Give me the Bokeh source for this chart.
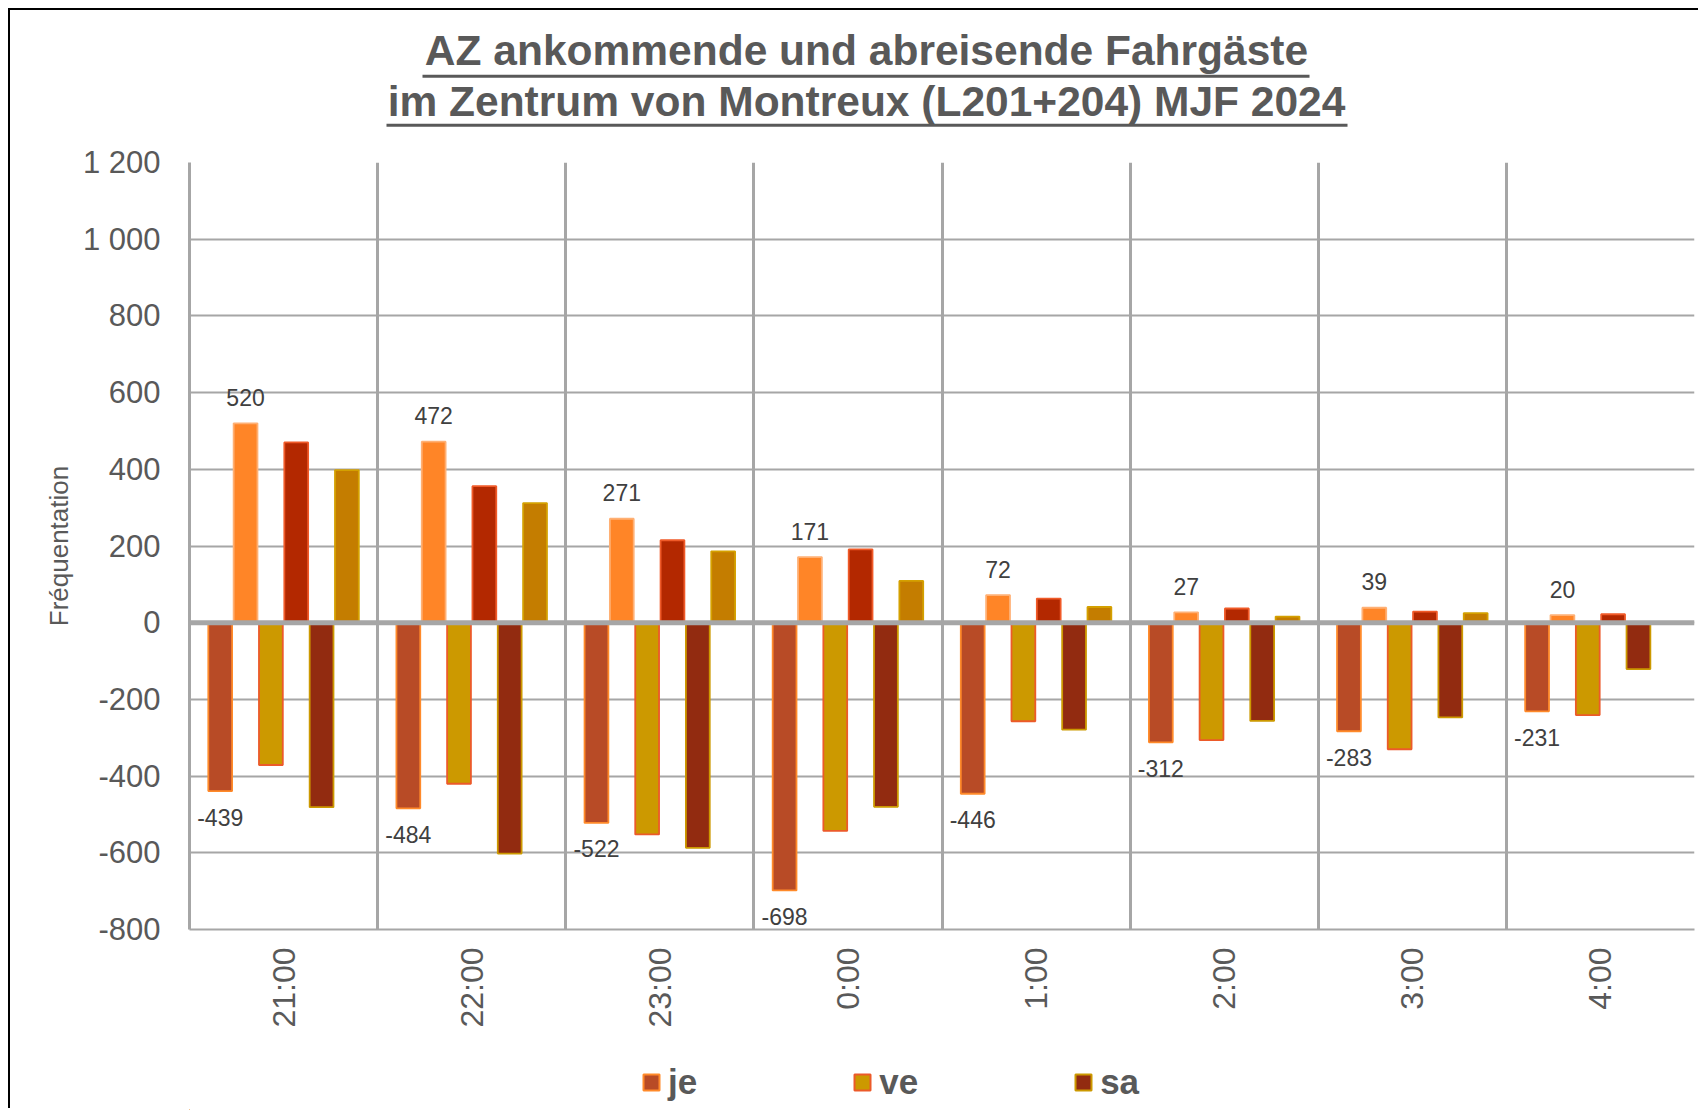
import math
from bokeh.plotting import figure
from bokeh.models import ColumnDataSource, Range1d, FixedTicker, Span, Legend, LegendItem
from bokeh.transform import dodge
from bokeh.layouts import column
from bokeh.core.properties import value
from bokeh.embed import file_html
from bokeh.resources import INLINE

# ---------------- data ----------------
hours = ["21:00", "22:00", "23:00", "0:00", "1:00", "2:00", "3:00", "4:00"]
series_names = ["je", "ve", "sa"]
je_out = [-439, -484, -522, -698, -446, -312, -283, -231]
je_in = [520, 472, 271, 171, 72, 27, 39, 20]
ve_out = [-371, -420, -552, -543, -257, -306, -330, -241]
ve_in = [470, 356, 215, 191, 63, 37, 29, 22]
sa_out = [-481, -602, -587, -480, -279, -256, -247, -121]
sa_in = [398, 312, 186, 109, 41, 16, 25, 0]
y_ticks = [-800, -600, -400, -200, 0, 200, 400, 600, 800, 1000, 1200]
y_tick_labels = ["-800", "-600", "-400", "-200", "0", "200", "400", "600", "800", "1 000", "1 200"]
title_lines = ["AZ ankommende und abreisende Fahrgäste",
               "im Zentrum von Montreux (L201+204) MJF 2024"]
y_label = "Fréquentation"

# ---------------- style ----------------
FONT = "Liberation Sans"
GRID = "#A6A6A6"
TXT = "#595959"
LBL = "#404040"
BL, BR = 179, 6          # left / right borders shared by all figures (frames aligned)
FRAME_L, FRAME_R = 189, 1694   # page x of plot frame (figures are offset by 10px)

# ---------------- title figure ----------------
tf = figure(width=1690, height=133, x_range=Range1d(FRAME_L, FRAME_R), y_range=Range1d(133, 0),
            toolbar_location=None, output_backend="svg", x_axis_type=None, y_axis_type=None,
            min_border_left=BL, min_border_right=BR, min_border_top=0, min_border_bottom=0)
tf.grid.visible = False
tf.outline_line_color = None
tsrc = ColumnDataSource(dict(x=[866, 866], y=[39.7, 91.3], text=title_lines))
tf.text(x="x", y="y", text="text", source=tsrc, text_font=value(FONT),
        text_font_size="42.5px", text_font_style="bold", text_color=TXT,
        text_align="center", text_baseline="alphabetic")
tf.segment(x0=[422, 386], y0=[65.7, 114.7], x1=[1309, 1347], y1=[65.7, 114.7],
           line_color=TXT, line_width=3)

# ---------------- main figure ----------------
p = figure(width=1690, height=897, x_range=Range1d(0, len(hours)), y_range=Range1d(-800, 1200),
           toolbar_location=None, output_backend="svg",
           min_border_left=BL, min_border_right=BR, min_border_top=19, min_border_bottom=111)
p.outline_line_color = None

xc = [i + 0.5 for i in range(len(hours))]
src = ColumnDataSource(dict(xc=xc, je_out=je_out, je_in=je_in, ve_out=ve_out, ve_in=ve_in,
                            sa_out=sa_out, sa_in=sa_in,
                            je_in_lbl=[str(v) for v in je_in],
                            je_out_lbl=[str(v) for v in je_out]))

slot = 0.1347
order = [
    ("je_out", "#B84B26", "#FF8A2A"),
    ("je_in", "#FF8527", "#FFB074"),
    ("ve_out", "#CC9900", "#EC5A2A"),
    ("ve_in", "#B32800", "#F05A28"),
    ("sa_out", "#922B10", "#CC9900"),
    ("sa_in", "#C47D00", "#D4A000"),
]
style = {col: (fill, line) for col, fill, line in order}
for k, (col, fill, line) in enumerate(order):
    p.vbar(x=dodge("xc", (k - 2.5) * slot, range=p.x_range), top=col, bottom=0,
           width=slot * 0.94, source=src, fill_color=fill, line_color=line, line_width=1.8)

# data labels (je only)
p.text(x=dodge("xc", -1.5 * slot, range=p.x_range), y="je_in", text="je_in_lbl", source=src,
       text_font=value(FONT), text_font_size="23px", text_color=LBL,
       text_align="center", text_baseline="alphabetic", y_offset=-26)
p.text(x=dodge("xc", -2.5 * slot, range=p.x_range), y="je_out", text="je_out_lbl", source=src,
       text_font=value(FONT), text_font_size="23px", text_color=LBL,
       text_align="center", text_baseline="alphabetic", y_offset=26)

# zero line
p.add_layout(Span(location=0, dimension="width", line_color=GRID, line_width=5))

# grids
p.xgrid.ticker = FixedTicker(ticks=list(range(len(hours) + 1)))
p.xgrid.grid_line_color = GRID
p.xgrid.grid_line_width = 3
p.ygrid.ticker = FixedTicker(ticks=y_ticks)
p.ygrid.grid_line_color = GRID
p.ygrid.grid_line_width = 2

# x axis
p.xaxis.ticker = FixedTicker(ticks=xc)
p.xaxis.major_label_overrides = {x: h for x, h in zip(xc, hours)}
p.xaxis.major_label_orientation = math.pi / 2
p.xaxis.major_label_text_font = FONT
p.xaxis.major_label_text_font_size = "32px"
p.xaxis.major_label_text_color = TXT
p.xaxis.major_label_standoff = 18
p.xaxis.major_tick_out = 0
p.xaxis.major_tick_in = 0
p.xaxis.major_tick_line_color = None
p.xaxis.minor_tick_line_color = None
p.xaxis.axis_line_color = GRID
p.xaxis.axis_line_width = 2

# y axis
p.yaxis.ticker = FixedTicker(ticks=y_ticks)
p.yaxis.major_label_overrides = {t: l for t, l in zip(y_ticks, y_tick_labels)}
p.yaxis.major_label_text_font = FONT
p.yaxis.major_label_text_font_size = "31px"
p.yaxis.major_label_text_color = TXT
p.yaxis.major_label_standoff = 29
p.yaxis.major_tick_out = 0
p.yaxis.major_tick_in = 0
p.yaxis.major_tick_line_color = None
p.yaxis.minor_tick_line_color = None
p.yaxis.axis_line_color = GRID
p.yaxis.axis_line_width = 3
p.yaxis.axis_label = y_label
p.yaxis.axis_label_text_font = FONT
p.yaxis.axis_label_text_font_size = "26px"
p.yaxis.axis_label_text_font_style = "normal"
p.yaxis.axis_label_text_color = TXT
p.yaxis.axis_label_standoff = 6

# ---------------- legend strip ----------------
lf = figure(width=1690, height=70, x_range=Range1d(0, 1), y_range=Range1d(0, 1),
            toolbar_location=None, output_backend="svg", x_axis_type=None, y_axis_type=None,
            min_border_left=BL, min_border_right=BR, min_border_top=0, min_border_bottom=0)
lf.grid.visible = False
lf.outline_line_color = None
# one swatch bar per series, kept outside the strip's visible range (legend swatches only)
swatch = ColumnDataSource(dict(x=[-5.0], top=[-5.0]))
leg_items = []
for n in series_names:
    fill, line = style[n + "_out"]
    r = lf.vbar(x="x", top="top", bottom=-6.0, width=0.1, source=swatch,
                fill_color=fill, line_color=line, line_width=2)
    leg_items.append(LegendItem(label=n, renderers=[r]))
legend = Legend(items=leg_items, orientation="horizontal", location=(452, 8),
                glyph_width=20, glyph_height=20, label_standoff=7, spacing=155,
                padding=0, margin=0, border_line_color=None, background_fill_alpha=0,
                label_text_font=FONT, label_text_font_size="35px", label_text_font_style="bold",
                label_text_color=TXT)
lf.add_layout(legend, "center")

layout = column(tf, p, lf, spacing=0,
                styles={"position": "relative", "left": "10px", "top": "10px",
                        "box-shadow": "-2px -2px 0 0 black"})

open("out.html", "w").write(file_html(layout, INLINE))
